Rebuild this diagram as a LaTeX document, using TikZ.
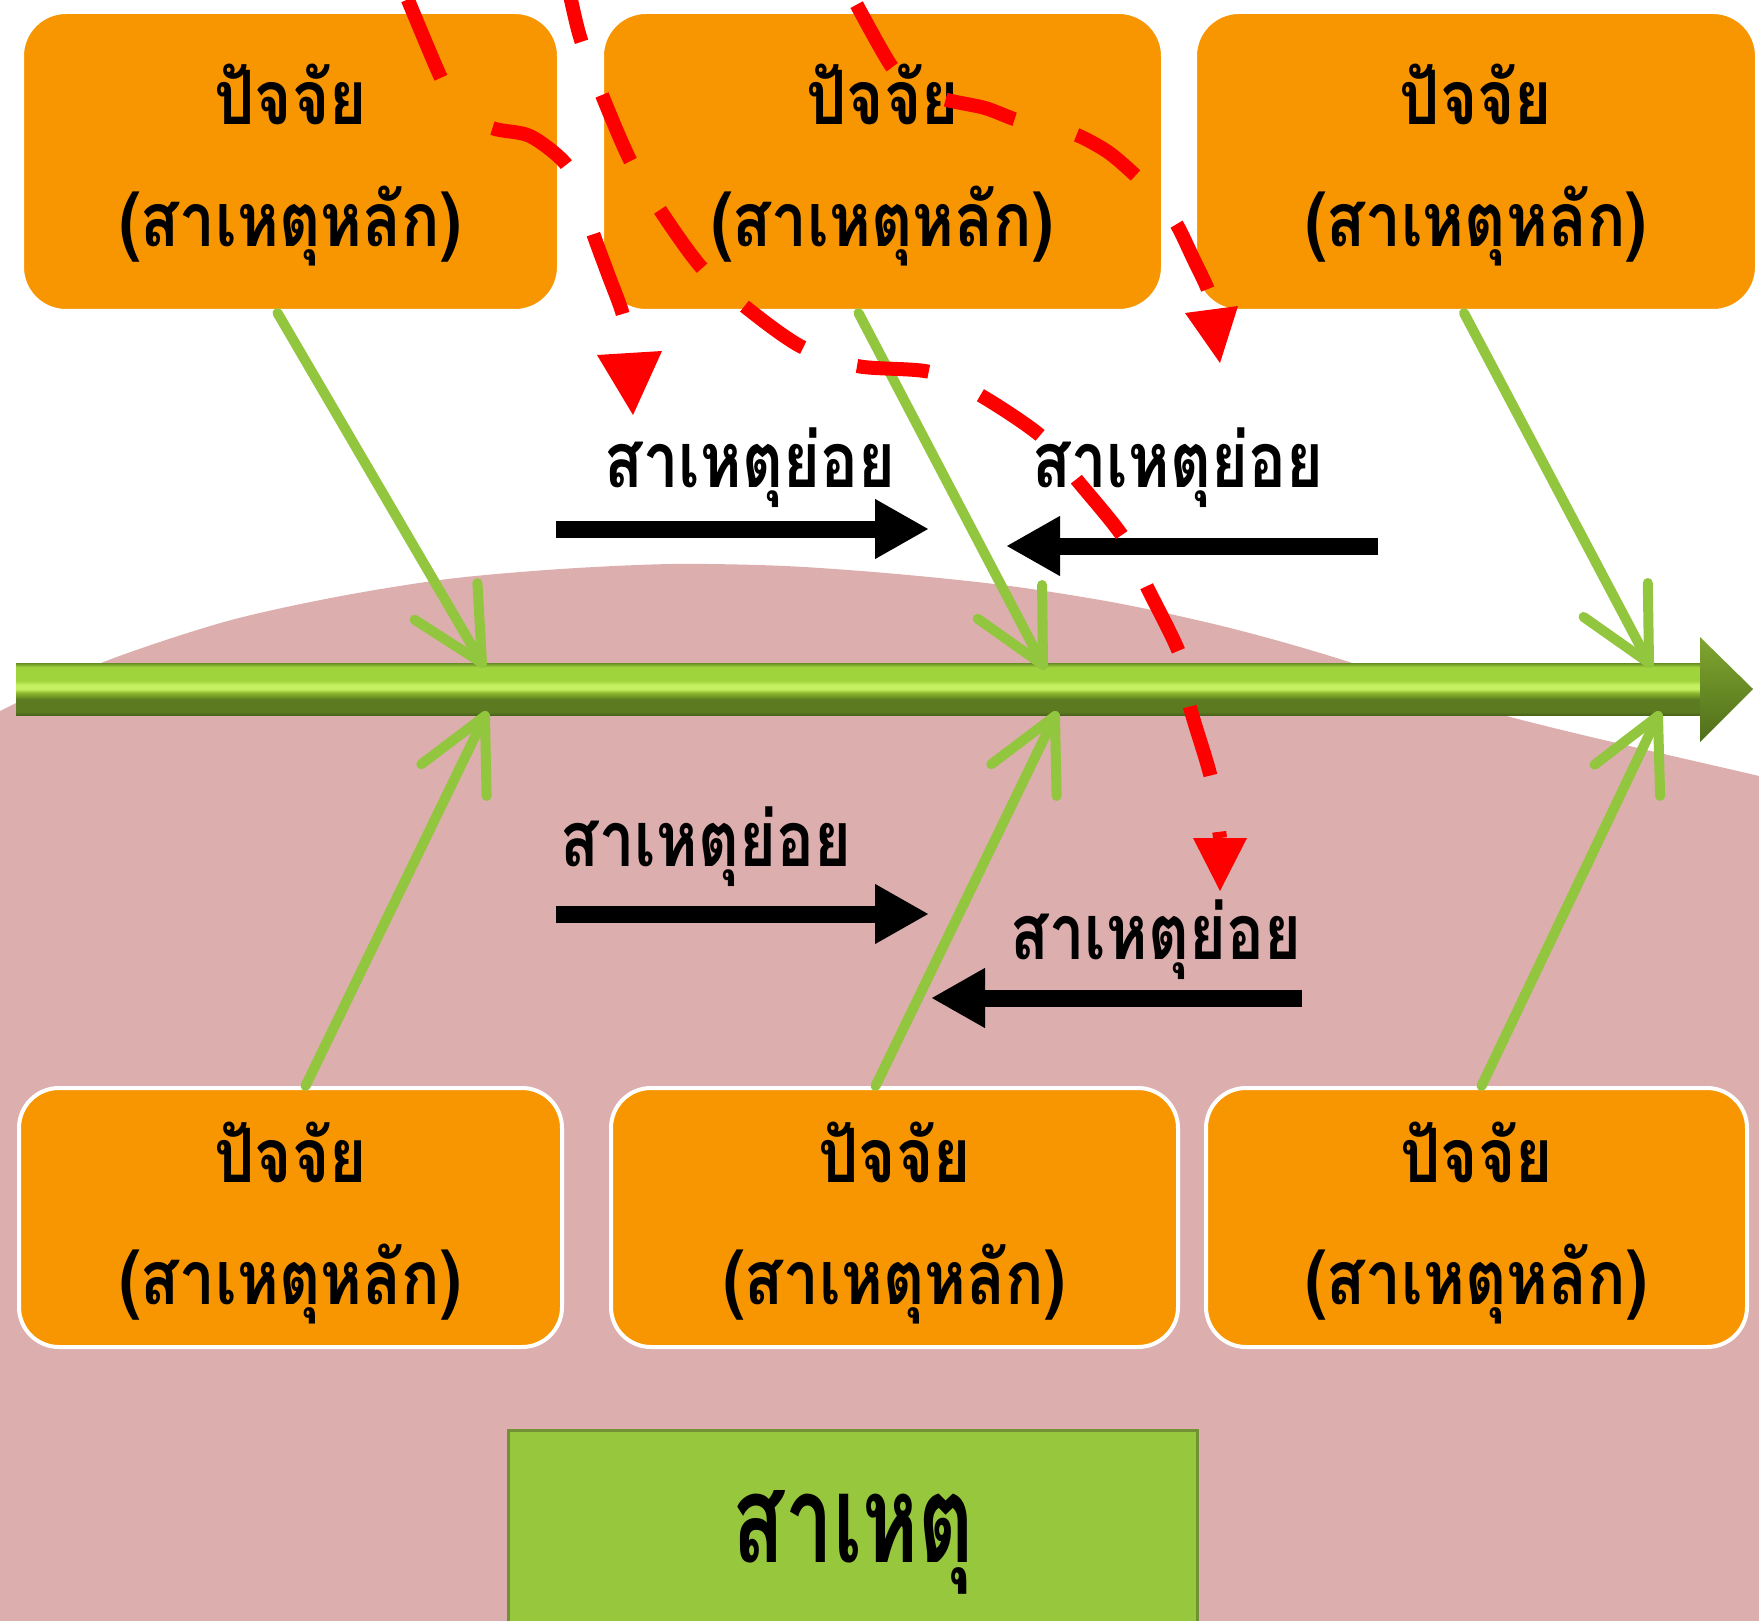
\documentclass[tikz,border=0pt]{standalone}
\usepackage{fontspec}
\newfontfamily\thai[Script=Thai, FakeStretch=0.85]{Loma}
\newfontfamily\thaisub[Script=Thai, FakeStretch=0.82]{Loma}
\newfontfamily\thaicause[Script=Thai, FakeStretch=0.70]{Loma}
\usetikzlibrary{calc,arrows.meta}

\definecolor{pinkbg}{RGB}{221,174,174}
\definecolor{boxorange}{RGB}{247,150,0}
\definecolor{leaf}{RGB}{146,198,62}
\definecolor{causegreen}{RGB}{151,199,61}
\definecolor{causeedge}{RGB}{112,146,52}
\definecolor{flowred}{RGB}{255,0,0}
\definecolor{spEdge}{RGB}{104,140,36}
\definecolor{spBright}{RGB}{160,212,60}
\definecolor{spLight}{RGB}{196,240,96}
\definecolor{spMid}{RGB}{136,180,44}
\definecolor{spDark}{RGB}{92,122,32}
\definecolor{spBottom}{RGB}{74,100,26}
\definecolor{headTop}{RGB}{128,166,48}
\definecolor{headBot}{RGB}{80,110,26}

\pgfdeclareverticalshading{spineshade}{100bp}{%
  color(0bp)=(spBottom); color(25bp)=(spBottom); color(28bp)=(spDark);
  color(40bp)=(spDark); color(46bp)=(spMid); color(50bp)=(spLight);
  color(54bp)=(spLight); color(58bp)=(spBright); color(71bp)=(spBright);
  color(75bp)=(spEdge); color(100bp)=(spEdge)}

\begin{document}
\begin{tikzpicture}[x=1pt,y=-1pt,
  factor/.style={draw=white, line width=4pt, fill=boxorange, rounded corners=44pt, inner sep=0pt},
  ftxt/.style={font=\thai\bfseries\fontsize{75}{90}\selectfont, inner sep=0pt, anchor=base},
  subtxt/.style={font=\thaisub\bfseries\fontsize{77}{92}\selectfont, inner sep=0pt, anchor=base},
  causetxt/.style={font=\thaicause\bfseries\fontsize{122}{146}\selectfont, inner sep=0pt, anchor=base},
  leafline/.style={draw=leaf, line width=10pt, line cap=round, line join=round},
  subarrow/.style={draw=black, line width=17pt, -{Triangle[length=54pt,width=56pt]}},
  flow/.style={draw=flowred, line width=14pt}]

\useasboundingbox (0,0) rectangle (1759,1621);
\clip (0,0) rectangle (1759,1621);
\fill[white] (0,0) rectangle (1759,1621);

% pink backdrop under the hump
\fill[pinkbg] plot[smooth] coordinates {(-10,716) (0,711) (101,663) (224,622) (336,597)
  (448,579) (561,569) (673,564) (785,566) (897,574) (1010,586) (1122,604) (1234,629)
  (1346,661) (1503,715) (1759,776) (1780,781)} -- (1780,1640) -- (-10,1640) -- cycle;

% main spine
\shade[shading=spineshade] (16,663) rectangle (1704,715);
\shade[top color=headTop, bottom color=headBot] (1700,637) -- (1753,689) -- (1700,742) -- cycle;

% factor boxes
\node[factor, minimum width=537pt, minimum height=299pt] (f1) at (290.5,161.5) {};
\node[factor, minimum width=561pt, minimum height=299pt] (f2) at (882.5,161.5) {};
\node[factor, minimum width=562pt, minimum height=299pt] (f3) at (1476,161.5) {};
\node[factor, minimum width=543pt, minimum height=259pt, rounded corners=40pt] (f4) at (290.5,1217.5) {};
\node[factor, minimum width=567pt, minimum height=259pt, rounded corners=40pt] (f5) at (894.5,1217.5) {};
\node[factor, minimum width=541pt, minimum height=259pt, rounded corners=40pt] (f6) at (1476.5,1217.5) {};

\foreach \b in {f1,f2,f3} {
  \node[ftxt] (\b a) at ($(\b.center)+(0,-36.5)$) {ปัจจัย};
  \node[ftxt] (\b b) at ($(\b.center)+(0,85)$) {(สาเหตุหลัก)};
}
\foreach \b in {f4,f5,f6} {
  \node[ftxt] (\b a) at ($(\b.center)+(0,-35.5)$) {ปัจจัย};
  \node[ftxt] (\b b) at ($(\b.center)+(0,86.5)$) {(สาเหตุหลัก)};
}

% bones: start on the boxes, tips on the spine
\coordinate (s1) at ([xshift=-13pt]f1.south);
\coordinate (s2) at ([xshift=-24pt]f2.south);
\coordinate (s3) at ([xshift=-12pt]f3.south);
\coordinate (s4) at ([xshift=15pt]f4.north);
\coordinate (s5) at ([xshift=-19pt]f5.north);
\coordinate (s6) at ([xshift=5pt]f6.north);
\coordinate (t1) at (482,663);
\coordinate (t2) at (1043,665);
\coordinate (t3) at (1649,663);
\coordinate (t4) at (485,716);
\coordinate (t5) at (1055,716);
\coordinate (t6) at (1658,716);
\foreach \i in {1,...,6} {
  \draw[leafline] (s\i) -- (t\i);
  \draw[leafline] ($(t\i)!80pt!27:(s\i)$) -- (t\i) -- ($(t\i)!80pt!-27:(s\i)$);
}

% sub-cause arrows
\coordinate (a1) at (556,529);  \coordinate (a2) at (929,529);
\coordinate (b1) at (1378,546); \coordinate (b2) at (1006,546);
\coordinate (c1) at (556,914);  \coordinate (c2) at (929,914);
\coordinate (d1) at (1302,998); \coordinate (d2) at (931,998);
\draw[subarrow] (a1) -- (a2);
\draw[subarrow] (b1) -- (b2);
\draw[subarrow] (c1) -- (c2);
\draw[subarrow] (d1) -- (d2);

\node[subtxt] (subA) at (750,487) {สาเหตุย่อย};
\node[subtxt] (subB) at (1178,487) {สาเหตุย่อย};
\node[subtxt] (subC) at (706,866) {สาเหตุย่อย};
\node[subtxt] (subD) at (1156,959) {สาเหตุย่อย};

% effect box
\node[draw=causeedge, line width=3pt, fill=causegreen, minimum width=689pt,
      minimum height=200pt, inner sep=0pt] (cause) at (852.5,1530) {};
\node[causetxt] (causet) at (853.5,1562) {สาเหตุ};

% red dashed flow curves
\coordinate (r1s) at (400,-20);  \coordinate (r1e) at (629,352);
\coordinate (r2s) at (563,-35);  \coordinate (r2e) at (1220,838);
\coordinate (r3s) at (840,-25);  \coordinate (r3e) at (1211,309);
\draw[flow, dash pattern=on 85pt off 75pt, dash phase=139pt] plot[smooth] coordinates {
  (r1s) (408,0) (441,78) (458,108) (492,128) (530,136) (565,163) (582,196) (593,233)
  (608,274) (623,315) (r1e)};
\draw[flow, dash pattern=on 72pt off 57pt, dash phase=122pt] plot[smooth] coordinates {
  (r2s) (571,0) (581,40) (602,95) (630,160) (660,210) (701,267) (743,305) (800,346)
  (857,366) (930,372) (980,395) (1042,437) (1077,480) (1123,537) (1147,587) (1180,655)
  (1190,707) (1211,778) (r2e)};
\draw[flow, dash pattern=on 72pt off 64pt, dash phase=102pt] plot[smooth] coordinates {
  (r3s) (854,0) (892,67) (918,90) (947,100) (985,108) (1017,120) (1047,126) (1077,135)
  (1108,152) (1135,175) (1158,198) (1177,225) (1193,258) (1208,290) (r3e)};
\fill[flowred] (597,355) -- (662,351) -- (633,415) -- cycle;
\fill[flowred] (1193,838) -- (1247,838) -- (1220,891) -- cycle;
\fill[flowred] (1185,313) -- (1238,306) -- (1220,363) -- cycle;

\end{tikzpicture}
\end{document}
